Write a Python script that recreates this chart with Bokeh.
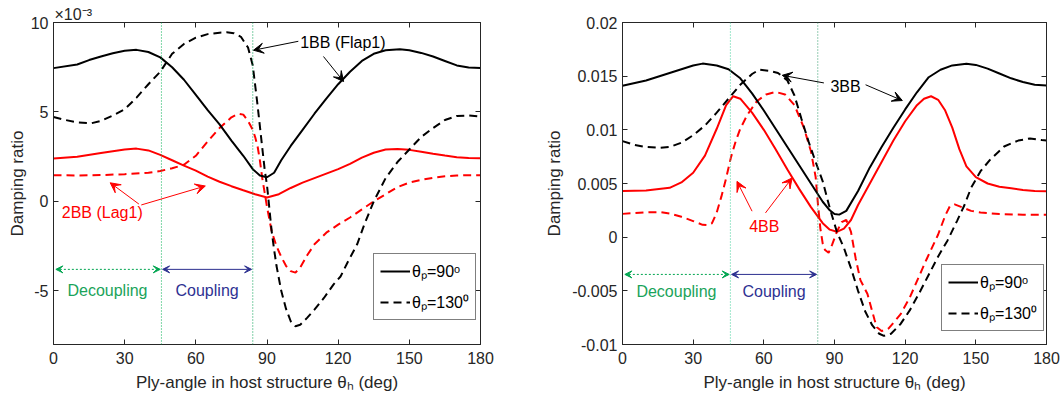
import numpy as np
from bokeh.plotting import figure
from bokeh.layouts import row
from bokeh.models import (LinearAxis, FixedTicker, Span, Arrow, VeeHead, Label,
                          Legend, LegendItem, Range1d)
from bokeh.embed import file_html
from bokeh.resources import INLINE

FONT = "Liberation Sans"
AX = "#262626"

# ---------------- Left panel data (damping ratio x 1e-3) ----------------
ang_1bb_90 = [0, 10, 15, 20, 25, 30, 35, 40, 45, 50, 55, 60, 65, 70, 75, 80, 84, 87, 90, 93, 96,
              100, 105, 110, 115, 120, 125, 130, 135, 140, 146, 150, 155, 160, 165, 170, 175, 180]
zeta_1bb_90 = [7.45, 7.65, 7.9, 8.1, 8.28, 8.42, 8.47, 8.35, 8.05, 7.5, 6.8, 5.95, 5.1, 4.3, 3.4,
               2.55, 1.8, 1.45, 1.35, 1.6, 2.3, 3.1, 4.0, 4.9, 5.75, 6.55, 7.25, 7.85, 8.25, 8.45,
               8.5, 8.45, 8.3, 8.1, 7.85, 7.6, 7.48, 7.45]

ang_1bb_130 = [0, 5, 10, 16, 20, 25, 30, 35, 40, 45, 50, 55, 60, 65, 70, 73, 76, 79, 82, 84, 86, 88,
               89, 90, 91, 92, 93, 94, 96, 98, 100, 102, 104, 107, 110, 114, 118, 121, 124, 128,
               131, 135, 140, 145, 150, 155, 160, 165, 170, 175, 180]
zeta_1bb_130 = [4.72, 4.55, 4.42, 4.37, 4.5, 4.8, 5.15, 5.8, 6.55, 7.25, 8.25, 8.8, 9.15, 9.35,
                9.43, 9.45, 9.4, 9.2, 8.6, 7.6, 5.4, 3.0, 1.8, 0.9, -0.4, -1.7, -2.7, -3.6, -5.0,
                -6.0, -6.7, -6.98, -6.9, -6.5, -6.05, -5.4, -4.65, -4.2, -3.4, -2.4, -1.3, 0.0,
                1.3, 2.2, 2.9, 3.6, 4.1, 4.55, 4.78, 4.8, 4.74]

ang_2bb_90 = [0, 10, 20, 30, 35, 40, 45, 50, 55, 60, 65, 70, 75, 80, 85, 90, 95, 100, 105, 110,
              115, 120, 125, 130, 135, 140, 145, 150, 155, 160, 165, 170, 175, 180]
zeta_2bb_90 = [2.4, 2.5, 2.7, 2.9, 2.95, 2.85, 2.6, 2.3, 2.0, 1.72, 1.38, 1.1, 0.85, 0.62, 0.4,
               0.22, 0.4, 0.75, 1.05, 1.3, 1.55, 1.8, 2.1, 2.45, 2.72, 2.9, 2.93, 2.88, 2.78,
               2.66, 2.56, 2.47, 2.42, 2.41]

ang_2bb_130 = [0, 10, 20, 30, 40, 45, 50, 55, 60, 65, 70, 75, 78, 80, 82, 84, 85, 86, 87, 88, 89,
               90, 91, 92, 94, 96, 98, 100, 102, 104, 107, 110, 115, 120, 125, 130, 135, 140,
               145, 150, 155, 160, 165, 170, 175, 180]
zeta_2bb_130 = [1.46, 1.45, 1.47, 1.52, 1.6, 1.7, 1.85, 2.05, 2.55, 3.35, 4.1, 4.7, 4.9, 4.85,
                4.5, 4.0, 3.6, 3.1, 2.3, 1.3, 0.5, -0.3, -1.0, -1.7, -2.5, -3.1, -3.6, -3.9,
                -3.98, -3.7, -3.0, -2.4, -1.75, -1.3, -0.9, -0.45, 0.0, 0.4, 0.8, 1.05, 1.2,
                1.32, 1.4, 1.45, 1.46, 1.46]

# ---------------- Right panel data (damping ratio x 1e-3) ----------------
ang_3bb_90 = [0, 10, 20, 30, 34, 40, 45, 50, 55, 60, 65, 70, 75, 80, 85, 88, 90, 92, 95, 100,
              105, 110, 115, 120, 125, 130, 135, 140, 146, 150, 155, 160, 165, 170, 175, 180]
zeta_3bb_90 = [14.1, 14.6, 15.3, 16.0, 16.17, 16.0, 15.65, 14.8, 13.4, 11.8, 10.1, 8.4, 6.7, 5.0,
               3.3, 2.5, 2.15, 2.1, 2.45, 4.3, 6.5, 8.4, 10.2, 11.9, 13.5, 14.9, 15.6, 16.0,
               16.15, 16.05, 15.7, 15.25, 14.8, 14.45, 14.2, 14.12]

ang_4bb_90 = [0, 10, 20, 25, 30, 35, 40, 44, 47, 50, 55, 60, 65, 70, 75, 80, 85, 88, 91, 94, 97,
              100, 105, 110, 115, 120, 125, 128, 131, 134, 137, 140, 143, 146, 150, 155, 160,
              165, 170, 175, 180]
zeta_4bb_90 = [4.3, 4.35, 4.6, 5.1, 6.0, 7.6, 10.1, 12.3, 13.13, 12.9, 11.6, 10.0, 8.2, 6.3, 4.5,
               2.8, 1.3, 0.7, 0.5, 0.8, 1.6, 3.0, 5.0, 7.0, 9.0, 10.8, 12.3, 12.9, 13.13, 12.8,
               11.8, 10.2, 8.2, 6.6, 5.6, 5.0, 4.7, 4.55, 4.4, 4.3, 4.28]

ang_3bb_130 = [0, 5, 10, 16, 20, 25, 30, 35, 40, 45, 50, 55, 58, 62, 66, 70, 73, 76, 79, 82, 85,
               88, 91, 94, 97, 100, 103, 106, 109, 111, 114, 118, 122, 126, 130, 134, 138, 142,
               145, 148, 152, 156, 162, 168, 173, 178, 180]
zeta_3bb_130 = [8.95, 8.6, 8.4, 8.32, 8.4, 8.8, 9.5, 10.4, 11.6, 12.9, 14.2, 15.2, 15.6, 15.5,
                15.3, 14.6, 13.2, 11.0, 8.9, 7.0, 5.2, 2.7, 0.5, -1.0, -2.9, -5.0, -6.9, -8.2,
                -9.0, -9.2, -9.0, -8.1, -6.8, -5.2, -3.5, -1.8, -0.3, 1.5, 2.9, 4.6, 6.15, 7.2,
                8.45, 9.0, 9.2, 9.05, 9.0]

ang_4bb_130 = [0, 5, 10, 16, 20, 25, 30, 34, 36, 38, 40, 42, 44, 46, 48, 50, 53, 57, 61, 65, 69,
               73, 77, 80, 82, 83, 84, 85, 86, 87.5, 89, 91, 93, 95, 97, 99, 101, 104, 107, 108,
               110, 113, 118, 122, 125, 129, 134, 137, 139, 141, 144, 148, 152, 160, 170, 180]
zeta_4bb_130 = [2.17, 2.25, 2.32, 2.33, 2.2, 1.9, 1.5, 1.15, 1.12, 1.3, 2.3, 3.8, 5.5, 7.4, 8.9,
                10.1, 11.4, 12.66, 13.3, 13.53, 13.3, 12.3, 10.2, 8.0, 5.6, 3.0, 0.8, -0.6, -1.2,
                -1.45, -0.7, 0.5, 1.4, 1.6, 0.5, -2.0, -4.0, -5.3, -7.7, -8.4, -8.75, -8.5, -7.2,
                -5.6, -4.1, -2.1, 0.25, 2.0, 2.9, 3.05, 2.8, 2.45, 2.3, 2.15, 2.1, 2.1]

# ---------------- Axes / labels ----------------
x_ticks = [0, 30, 60, 90, 120, 150, 180]
left_y_ticks = [-5, 0, 5, 10]
left_y_labels = ["-5", "0", "5", "10"]
right_y_ticks = [-0.01, -0.005, 0, 0.005, 0.01, 0.015, 0.02]
right_y_labels = ["-0.01", "-0.005", "0", "0.005", "0.01", "0.015", "0.02"]
left_bounds = [45.5, 84.0]      # decoupling / coupling limits (deg)
right_bounds = [45.8, 82.9]
legend_labels = ["\u03b8\u209a=90\u1d52", "\u03b8\u209a=130\u2070"]
x_label = "Ply-angle in host structure \u03b8\u2095 (deg)"
y_label = "Damping ratio"
exponent_label = "\u00d710\u207b\u00b3"


def make_fig(width, bl, br, ylo, yhi, yticks, ylabels, ylab_standoff, title=None):
    p = figure(width=width, height=400, x_range=Range1d(0, 180), y_range=Range1d(ylo, yhi),
               output_backend="svg", toolbar_location=None,
               min_border_left=bl, min_border_right=br, min_border_top=22, min_border_bottom=56)
    if title:
        p.title.text = title
        p.title.text_font = FONT
        p.title.text_font_size = "16px"
        p.title.text_font_style = "normal"
        p.title.text_color = AX
        p.title.align = "left"
        p.title.standoff = 0
        p.title.offset = 1
    p.grid.visible = False
    p.outline_line_color = AX
    p.outline_line_width = 1
    p.background_fill_color = "white"
    p.border_fill_color = "white"
    p.xaxis.ticker = FixedTicker(ticks=x_ticks)
    p.yaxis.ticker = FixedTicker(ticks=yticks)
    p.yaxis.major_label_overrides = {t: l for t, l in zip(yticks, ylabels)}
    for ax in (p.xaxis[0], p.yaxis[0]):
        ax.major_tick_in = 5
        ax.major_tick_out = 0
        ax.minor_tick_line_color = None
        ax.axis_line_color = AX
        ax.major_tick_line_color = AX
        ax.major_label_text_font = FONT
        ax.major_label_text_font_size = "16px"
        ax.major_label_text_color = AX
        ax.axis_label_text_font = FONT
        ax.axis_label_text_font_size = "17px"
        ax.axis_label_text_font_style = "normal"
        ax.axis_label_text_color = AX
    p.xaxis.axis_label = x_label
    p.yaxis.axis_label = y_label
    p.xaxis.major_label_standoff = 7
    p.xaxis.axis_label_standoff = 6
    p.yaxis.major_label_standoff = 5
    p.yaxis.axis_label_standoff = ylab_standoff
    for loc, tk in (("above", x_ticks), ("right", yticks)):
        ax = LinearAxis(ticker=FixedTicker(ticks=tk), major_tick_in=5, major_tick_out=0,
                        minor_tick_line_color=None, axis_line_color=AX,
                        major_tick_line_color=AX, major_label_text_font_size="0px",
                        major_label_standoff=0,
                        major_label_overrides={t: "" for t in tk})
        p.add_layout(ax, loc)
    return p


def add_region_marks(p, bounds, span_colors, y_arrow, y_text):
    for b, c in zip(bounds, span_colors):
        p.add_layout(Span(location=b, dimension="height", line_color=c, line_dash="1 2",
                          line_width=1))
    green = "#00a550"
    navy = "#2b2f8f"
    p.add_layout(Arrow(x_start=1, y_start=y_arrow, x_end=bounds[0] - 0.5, y_end=y_arrow,
                       line_color=green, line_dash="2 2", line_width=1,
                       start=VeeHead(size=7, line_color=green, fill_color=green, line_width=1),
                       end=VeeHead(size=7, line_color=green, fill_color=green, line_width=1)))
    p.add_layout(Arrow(x_start=bounds[0] + 0.5, y_start=y_arrow, x_end=bounds[1] - 0.5,
                       y_end=y_arrow, line_color=navy, line_width=1,
                       start=VeeHead(size=7, line_color=navy, fill_color=navy, line_width=1),
                       end=VeeHead(size=7, line_color=navy, fill_color=navy, line_width=1)))
    p.add_layout(Label(x=bounds[0] / 2, y=y_text, text="Decoupling", text_align="center",
                       text_baseline="middle", text_font=FONT, text_font_size="16px",
                       text_color="#1aa35a"))
    p.add_layout(Label(x=(bounds[0] + bounds[1]) / 2, y=y_text, text="Coupling",
                       text_align="center", text_baseline="middle", text_font=FONT,
                       text_font_size="16px", text_color="#2e3192"))


def arrow(p, x0, y0, x1, y1, c):
    p.add_layout(Arrow(x_start=x0, y_start=y0, x_end=x1, y_end=y1, line_color=c, line_width=1,
                       end=VeeHead(size=10, line_color=c, fill_color=c, line_width=1)))


def txt(p, x, y, s, c, align="left"):
    p.add_layout(Label(x=x, y=y, text=s, text_align=align, text_baseline="middle",
                       text_font=FONT, text_font_size="16px", text_color=c))


def add_legend(p, r_solid, r_dash, loc):
    leg = Legend(items=[LegendItem(label=legend_labels[0], renderers=[r_solid]),
                        LegendItem(label=legend_labels[1], renderers=[r_dash])],
                 location=loc, border_line_color="black", border_line_width=1,
                 background_fill_alpha=1, label_text_font=FONT, label_text_font_size="16px",
                 label_text_color="black", glyph_width=30, glyph_height=20, label_height=20,
                 spacing=9, padding=6, margin=0, label_standoff=2)
    p.add_layout(leg, "center")


LW = 2
DASH = "8 5"

# ---------------- Left figure ----------------
p1 = make_fig(540, 53, 60, -8, 10, left_y_ticks, left_y_labels, 1, exponent_label)
add_region_marks(p1, left_bounds, ["#00b050", "#00a050"], -3.8, -5.0)
r_a = p1.line(ang_2bb_90, zeta_2bb_90, line_color="red", line_width=LW)
r_b = p1.line(ang_2bb_130, zeta_2bb_130, line_color="red", line_width=LW, line_dash=DASH)
r1 = p1.line(ang_1bb_90, zeta_1bb_90, line_color="black", line_width=LW)
r2 = p1.line(ang_1bb_130, zeta_1bb_130, line_color="black", line_width=LW, line_dash=DASH)
txt(p1, 104.0, 8.88, "1BB (Flap1)", "black")
arrow(p1, 103.2, 8.95, 84.3, 8.45, "black")
arrow(p1, 113.8, 8.1, 122.3, 6.7, "black")
txt(p1, 3.5, -0.64, "2BB (Lag1)", "red")
arrow(p1, 36.0, -0.15, 23.9, 1.04, "red")
arrow(p1, 37.0, -0.2, 64.0, 0.86, "red")
add_legend(p1, r1, r2, (320, 24))

# ---------------- Right figure ----------------
s = 1e-3
p2 = make_fig(524, 82, 18, -0.01, 0.02, right_y_ticks, right_y_labels, 5)
add_region_marks(p2, right_bounds, ["#3fcf9a", "#2e9a6a"], -3.47 * s, -5.1 * s)
p2.line(ang_4bb_90, np.array(zeta_4bb_90) * s, line_color="red", line_width=LW)
p2.line(ang_4bb_130, np.array(zeta_4bb_130) * s, line_color="red", line_width=LW, line_dash=DASH)
q1 = p2.line(ang_3bb_90, np.array(zeta_3bb_90) * s, line_color="black", line_width=LW)
q2 = p2.line(ang_3bb_130, np.array(zeta_3bb_130) * s, line_color="black", line_width=LW,
             line_dash=DASH)
txt(p2, 94.7, 14.06 * s, "3BB", "black", "center")
arrow(p2, 85.5, 14.37 * s, 67.8, 15.08 * s, "black")
arrow(p2, 103.2, 14.2 * s, 118.8, 12.73 * s, "black")
txt(p2, 60.2, 1.02 * s, "4BB", "red", "center")
arrow(p2, 55.0, 2.42 * s, 48.6, 5.2 * s, "red")
arrow(p2, 60.7, 2.26 * s, 72.0, 5.52 * s, "red")
add_legend(p2, q1, q2, (319, 13))

layout = row(p1, p2)
open("out.html", "w").write(file_html(layout, INLINE))
